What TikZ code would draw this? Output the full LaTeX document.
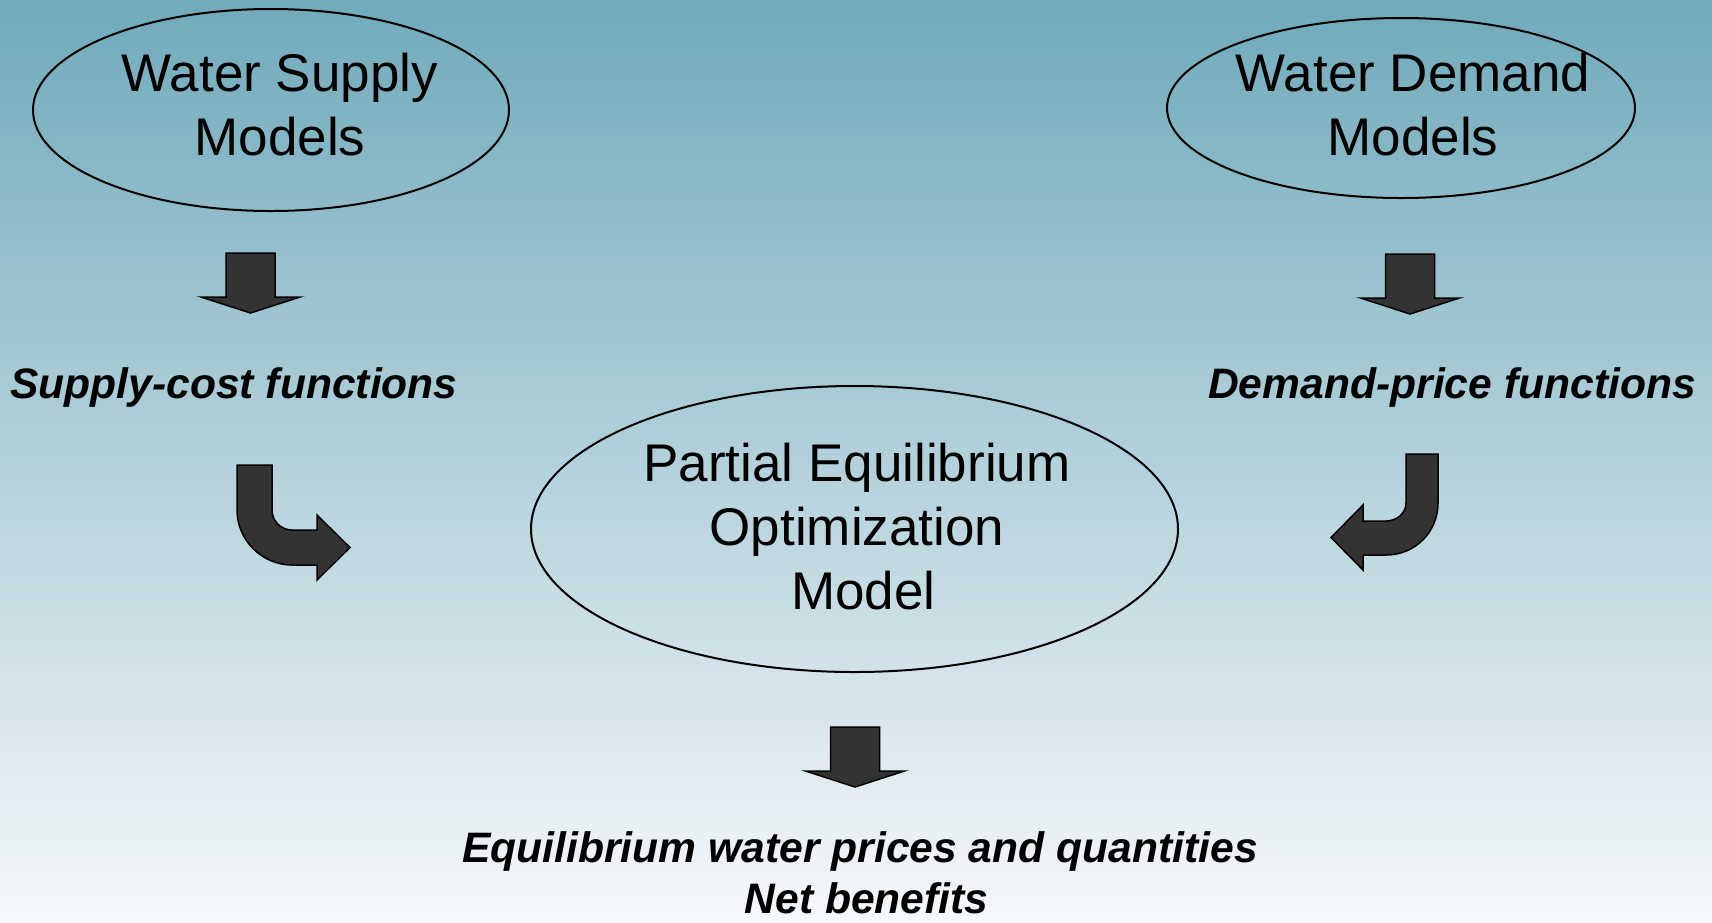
\documentclass[tikz,border=0pt]{standalone}
\usepackage{fontspec}
\setmainfont{Liberation Sans}
\usepackage{tikz}
\usetikzlibrary{shapes.geometric}

\definecolor{bgtop}{RGB}{112,170,187}
\definecolor{bgmid}{RGB}{196,220,227}
\definecolor{bgbot}{RGB}{246,248,250}
\definecolor{arrowgray}{RGB}{51,51,51}

\tikzset{
  oval/.style={ellipse,draw=black,line width=2pt,inner sep=0pt},
  modeltxt/.style={align=center,font=\fontsize{53}{64}\selectfont},
  functxt/.style={align=center,font=\fontsize{42.6}{51}\selectfont\bfseries\itshape},
  blockarrow/.style={draw=black,line width=1.5pt,fill=arrowgray,line join=miter},
  blockdown/.pic={
    \draw[blockarrow] (-24.5,0) -- (24.5,0) -- (24.5,44) -- (49.5,44)
      -- (0,60) -- (-49.5,44) -- (-24.5,44) -- cycle;}
}

\begin{document}
\begin{tikzpicture}[x=1pt,y=-1pt]
\useasboundingbox (0,0) rectangle (1712,922);
\shade[top color=bgtop,middle color=bgmid,bottom color=bgbot] (0,0) rectangle (1712,922);

% the three models
\node[oval,minimum width=476pt,minimum height=202pt] (supply) at (271,110) {};
\node[modeltxt] (supplytxt) at (280,105) {Water Supply\\Models};
\node[oval,minimum width=468pt,minimum height=180pt] (demand) at (1401,108) {};
\node[modeltxt] (demandtxt) at (1413,105) {Water Demand\\Models};
\node[oval,minimum width=647pt,minimum height=286pt] (pem) at (854.5,529) {};
\node[modeltxt] (pemtxt) at (857,527) {Partial Equilibrium\\Optimization\\\hspace*{13pt}Model};

% what they hand on
\node[functxt] (supplyfn) at (234,387) {Supply-cost functions};
\node[functxt] (demandfn) at (1452,387) {Demand-price functions};
\node[functxt] (result) at (860,873) {Equilibrium water prices and quantities\\\hspace*{13pt}Net benefits};

\pic at (250.5,253) {blockdown};
\pic at (1410,254) {blockdown};
\pic at (855,727) {blockdown};

% bent arrows into the centre
\draw[blockarrow] (237,465) -- (272,465) -- (272,510)
  .. controls (272,521) and (281,530) .. (292,530) -- (317,530) -- (317,515)
  -- (350,547.5) -- (317,580) -- (317,565) -- (292,565)
  .. controls (262,565) and (237,540) .. (237,510) -- cycle;
\draw[blockarrow] (1438,454) -- (1406,454) -- (1406,503)
  .. controls (1406,513) and (1397,521) .. (1386,521) -- (1363,521) -- (1363,505)
  -- (1331,537.5) -- (1363,570) -- (1363,555) -- (1386,555)
  .. controls (1415,555) and (1438,532) .. (1438,503) -- cycle;
\end{tikzpicture}
\end{document}
